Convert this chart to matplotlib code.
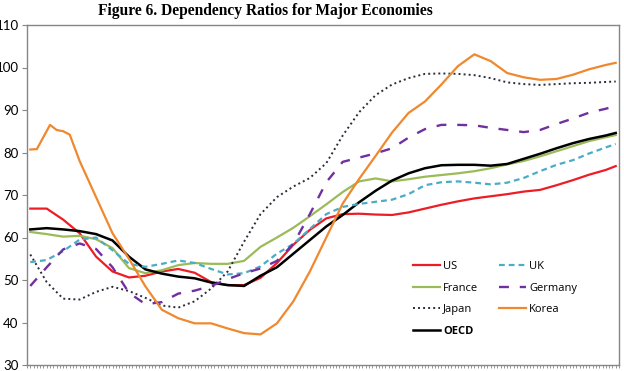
import matplotlib.pyplot as plt
import numpy as np

# Data --------------------------------------------------------#
# t : position on the (unlabelled) time axis, 0..180 ticks
t = [1, 6, 11, 16, 21, 26, 31, 36, 41, 46, 51, 56, 61, 66, 71, 76, 81, 86, 91,
     96, 101, 106, 111, 116, 121, 126, 131, 136, 141, 146, 151, 156, 161, 166,
     171, 176, 179]

us = [66.8, 66.8, 64.2, 61.0, 55.5, 52.0, 50.6, 51.0, 52.0, 52.6, 51.7, 49.5,
      48.8, 48.8, 50.5, 54.0, 58.3, 61.8, 64.5, 65.5, 65.6, 65.4, 65.3, 65.9,
      66.8, 67.7, 68.5, 69.2, 69.7, 70.2, 70.8, 71.2, 72.3, 73.5, 74.8, 75.9, 76.8]
uk = [54.2, 54.7, 56.8, 59.5, 60.0, 57.0, 53.8, 53.1, 53.8, 54.6, 54.0, 52.6,
      51.3, 51.6, 53.2, 56.2, 58.5, 62.0, 65.5, 67.2, 67.9, 68.4, 68.9, 70.2,
      72.3, 73.0, 73.2, 72.9, 72.5, 72.9, 74.0, 75.6, 77.1, 78.2, 79.8, 81.2, 82.0]
france = [61.3, 60.8, 60.2, 60.4, 59.6, 57.5, 52.8, 51.6, 52.3, 53.5, 54.0, 53.8,
          53.8, 54.5, 57.8, 60.0, 62.3, 65.0, 67.8, 70.7, 73.2, 73.9, 73.2, 73.7,
          74.3, 74.7, 75.1, 75.6, 76.3, 77.2, 78.0, 79.1, 80.3, 81.5, 82.7, 83.6, 84.1]
germany = [48.6, 53.0, 57.2, 58.6, 57.3, 53.0, 47.0, 44.3, 44.8, 46.8, 47.5, 48.6,
           50.2, 51.6, 52.7, 54.5, 58.5, 65.5, 73.0, 77.8, 78.8, 79.8, 81.0, 83.5,
           85.5, 86.5, 86.5, 86.4, 85.8, 85.3, 84.8, 85.3, 86.7, 88.0, 89.4, 90.3, 91.0]
japan = [56.0, 49.5, 45.6, 45.4, 47.2, 48.4, 47.4, 45.8, 44.0, 43.5, 45.0, 48.0,
         52.0, 59.0, 65.5, 69.5, 72.0, 74.0, 77.5, 84.0, 89.5, 93.5, 96.0, 97.5,
         98.5, 98.6, 98.5, 98.2, 97.5, 96.5, 96.1, 95.9, 96.1, 96.3, 96.4, 96.6, 96.7]
# Korea has its own sample points around the early peak
t_korea = [1, 3, 7, 9, 11, 13, 16, 21, 26, 31, 36, 41, 46, 51, 56, 61, 66, 71,
           76, 81, 86, 91, 96, 101, 106, 111, 116, 121, 126, 131, 136, 141, 146,
           151, 156, 161, 166, 171, 176, 179]
korea = [80.7, 80.8, 86.5, 85.3, 85.0, 84.2, 78.0, 69.5, 61.0, 55.0, 48.5, 43.0,
         41.0, 39.8, 39.8, 38.6, 37.5, 37.2, 39.8, 45.0, 52.0, 60.0, 68.0, 73.8,
         79.2, 84.7, 89.3, 92.0, 96.0, 100.3, 103.1, 101.5, 98.7, 97.7, 97.1, 97.3,
         98.3, 99.6, 100.6, 101.1]
oecd = [61.9, 62.2, 61.9, 61.5, 60.8, 59.3, 55.5, 52.5, 51.5, 50.8, 50.4, 49.4,
        48.8, 48.6, 51.0, 53.0, 56.2, 59.4, 62.6, 65.3, 68.3, 71.0, 73.4, 75.1,
        76.3, 77.0, 77.1, 77.1, 76.9, 77.3, 78.5, 79.7, 81.0, 82.2, 83.2, 84.0, 84.6]

yticks = [30, 40, 50, 60, 70, 80, 90, 100, 110]

# Figure ------------------------------------------------------#
fig = plt.figure(figsize=(6.24, 3.71), dpi=100)
ax = fig.add_axes([27/624, 6/371, 592/624, 340/371])

gray = '#868686'
ax.plot(t, us, color='#EE1C25', lw=1.6, label='US')
ax.plot(t, france, color='#9BBB59', lw=1.6, label='France')
ax.plot(t, japan, color='#2B2B3A', lw=1.4, linestyle=(0, (1, 1.6)), label='Japan')
ax.plot(t, oecd, color='black', lw=1.8, label='OECD')
ax.plot(t, uk, color='#4BACC6', lw=1.6, linestyle=(0, (2.6, 1.8)), label='UK')
ax.plot(t, germany, color='#7030A0', lw=1.7, linestyle=(0, (4.2, 4.6)), label='Germany')
ax.plot(t_korea, korea, color='#F0882E', lw=1.6, label='Korea')

ax.set_xlim(0, 180)
ax.set_ylim(30, 110)
ax.set_yticks(yticks)
ax.set_yticklabels([str(v) for v in yticks], fontsize=9.5, family='Lato')
ax.set_xticks(np.arange(0, 181, 1))
ax.set_xticklabels([])
ax.tick_params(axis='x', length=2.5, width=0.6, color=gray)
ax.tick_params(axis='y', length=3.5, width=0.8, color=gray, pad=2.5)
for s in ax.spines.values():
    s.set_color(gray)
    s.set_linewidth(1.0)

leg = ax.legend(ncol=2, loc='upper left', bbox_to_anchor=(0.635, 0.335), frameon=False,
                prop={'family': 'Open Sans', 'size': 8}, handlelength=2.4,
                labelspacing=0.95, columnspacing=1.9, handletextpad=0.3)
leg.get_texts()[3].set_fontweight('bold')

fig.text(265/624, 1 - 11/371, 'Figure 6. Dependency Ratios for Major Economies', ha='center',
         va='center', fontsize=11.2, fontweight='bold', family='Liberation Serif')

fig.savefig('out.png', dpi=100)
